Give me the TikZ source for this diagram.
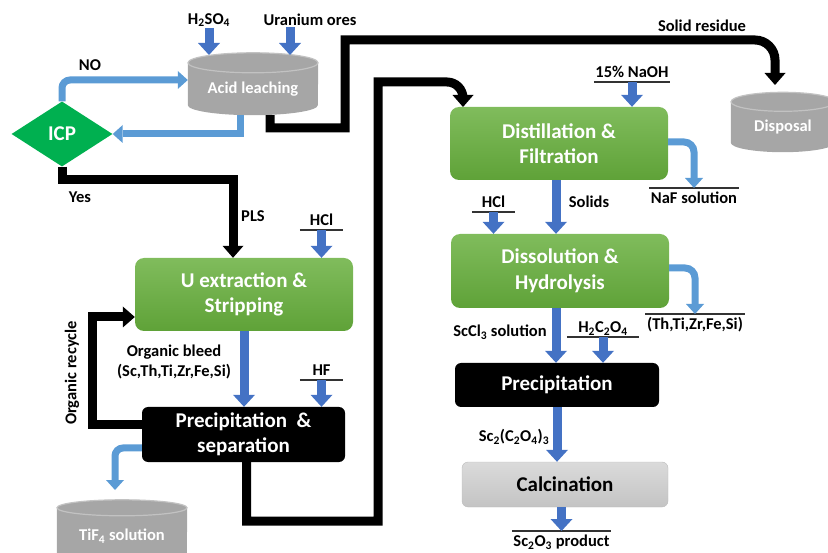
\documentclass[tikz,border=0pt]{standalone}
\usepackage{fontspec}
\setmainfont{Carlito}
\usepackage{tikz}
\usetikzlibrary{arrows.meta, positioning, shapes.geometric, backgrounds, calc}

\definecolor{flowblue}{HTML}{4472C4}
\definecolor{sideblue}{HTML}{5B9BD5}
\definecolor{icpgreen}{HTML}{00B050}
\definecolor{greentop}{HTML}{80BC5C}
\definecolor{greenbot}{HTML}{5FA238}
\definecolor{tankgray}{HTML}{A6A6A6}
\definecolor{tankrim}{HTML}{C2C2C2}
\definecolor{caltop}{HTML}{DADADA}
\definecolor{calbot}{HTML}{C4C4C4}
\definecolor{calborder}{HTML}{BCBCBC}

\newcommand{\labelfont}{\fontsize{16.5}{20.5}\selectfont\bfseries}
\newcommand{\boxfont}{\fontsize{21}{25.5}\selectfont\bfseries}

% cylinder body behind a tank node: node, x radius, y radius
\newcommand{\tankbody}[3]{%
  \begin{scope}[on background layer]
    \fill[tankgray] (#1.north west) -- ([yshift=#3]#1.south west)
      arc[start angle=180, end angle=360, x radius=#2, y radius=#3]
      -- (#1.north east)
      arc[start angle=0, end angle=180, x radius=#2, y radius=#3] -- cycle;
    \draw[tankrim, line width=1.2pt] (#1.north) ellipse[x radius=#2, y radius=#3];
  \end{scope}}

\begin{document}
\begin{tikzpicture}[x=1pt, y=-1pt,
    every node/.style={font=\labelfont, inner sep=1pt},
    greenbox/.style={rectangle, rounded corners=9pt, top color=greentop, bottom color=greenbot,
      text=white, font=\boxfont, align=center, minimum width=218pt, minimum height=73pt},
    blackbox/.style={rectangle, rounded corners=6pt, fill=black, text=white, font=\boxfont,
      align=center, minimum width=204pt},
    tank/.style={rectangle, inner sep=0pt, text=white},
    feed/.style={inner sep=1.5pt, minimum width=43pt, text height=12pt, text depth=2.5pt},
    product/.style={inner sep=1.5pt, text height=14pt, text depth=3pt},
    rule/.style={black!80, line width=1.5pt},
    mainflow/.style={flowblue, line width=9pt, -{Triangle[width=22pt, length=12pt, line width=0pt]}},
    sideflow/.style={sideblue, line width=7pt, -{Triangle[width=18pt, length=10pt, line width=0pt]}},
    blackflow/.style={black, line width=9pt, -{Triangle[width=21pt, length=12pt, line width=0pt]}}]

  \useasboundingbox (0,0) rectangle (828,553);

  % leaching and ICP loop
  \node (h2so4) at (209,20) {H\textsubscript{2}SO\textsubscript{4}};
  \node (uore) at (310,20) {Uranium ores};
  \node[tank, minimum width=130pt, minimum height=52pt] (acid) at (253,89) {Acid leaching};
  \tankbody{acid}{65pt}{10pt}
  \node[diamond, fill=icpgreen, text=white, font=\boxfont, aspect=1.55,
    minimum width=101pt, minimum height=65pt, inner sep=0pt] (icp) at (62,134) {ICP};
  \node (no) at (90,65) {NO};
  \node (yes) at (80,197) {Yes};
  \node (pls) at (253,216) {PLS};
  \node (residue) at (702,26) {Solid residue};
  \node[tank, minimum width=104pt, minimum height=50pt] (disp) at (783,127) {Disposal};
  \tankbody{disp}{52pt}{9.5pt}

  % left column
  \node[greenbox] (uext) at (244,294.5) {U extraction \&\\Stripping};
  \node[blackbox, minimum width=203pt, minimum height=55pt] (psep) at (243.5,434.5) {Precipitation~~\&\\separation};
  \node[tank, minimum width=130pt, minimum height=56pt] (tif) at (122,536) {TiF\textsubscript{4} solution};
  \tankbody{tif}{65pt}{8pt}
  \node[align=center] (bleed) at (174,362) {Organic bleed\\(Sc,Th,Ti,Zr,Fe,Si)};
  \node[rotate=90] (recycle) at (72,373) {Organic recycle};
  \node[feed, anchor=south] (hcla) at (321.5,230) {HCl};
  \node[feed, anchor=south] (hf) at (321.5,380) {HF};

  % right column
  \node[greenbox] (dist) at (559,143.5) {Distillation \&\\Filtration};
  \node[feed, minimum width=72pt, anchor=south] (naoh) at (632,82) {15\% NaOH};
  \node[product, minimum width=72pt, anchor=north] (naf) at (694,188) {NaF solution};
  \node (solids) at (589,202) {Solids};
  \node[feed, anchor=south] (hclb) at (493.5,212) {HCl};
  \node[greenbox, minimum height=74pt] (diss) at (560,271) {Dissolution \&\\Hydrolysis};
  \node[product, minimum width=73pt, anchor=north] (thti) at (695,314) {(Th,Ti,Zr,Fe,Si)};
  \node (sccl) at (500,332) {ScCl\textsubscript{3} solution};
  \node[feed, minimum width=72pt, anchor=south] (oxal) at (603,337) {H\textsubscript{2}C\textsubscript{2}O\textsubscript{4}};
  \node[blackbox, minimum height=44pt] (prec) at (557,385) {Precipitation};
  \node (scox) at (514,437) {Sc\textsubscript{2}(C\textsubscript{2}O\textsubscript{4})\textsubscript{3}};
  \node[rectangle, rounded corners=6pt, top color=caltop, bottom color=calbot, draw=calborder,
    font=\boxfont, minimum width=206pt, minimum height=45pt] (cal) at (565,484.5) {Calcination};
  \node[product, minimum width=73pt, anchor=north] (sco) at (561.5,531) {Sc\textsubscript{2}O\textsubscript{3} product};

  % rules under feeds, over products
  \draw[rule] (hcla.south west) -- (hcla.south east);
  \draw[rule] (hf.south west) -- (hf.south east);
  \draw[rule] (naoh.south west) -- (naoh.south east);
  \draw[rule] (hclb.south west) -- (hclb.south east);
  \draw[rule] (oxal.south west) -- (oxal.south east);
  \draw[rule] (naf.north west) -- (naf.north east);
  \draw[rule] (thti.north west) -- (thti.north east);
  \draw[rule] (sco.north west) -- (sco.north east);

  % bend points
  \coordinate (leachtop) at (253,55);
  \coordinate (orein) at (290,55);
  \coordinate (resa) at (345,128);
  \coordinate (resb) at (345,40);
  \coordinate (dispin) at (775,85);
  \coordinate (yesbend) at (233,180);
  \coordinate (recbend) at (92,317);
  \coordinate (tifin) at (115,490);
  \coordinate (loopa) at (378,521);
  \coordinate (loopb) at (378,82);
  \coordinate (distin) at (463,107);

  % flows
  \draw[mainflow] (h2so4.south) -- (h2so4.south |- leachtop);
  \draw[mainflow] (orein |- uore.south) -- (orein);
  \draw[sideflow, rounded corners=8pt] (icp.north) |- ([yshift=9pt]acid.west);
  \draw[sideflow] ([xshift=-13pt]acid.south) |- (icp.east);
  \draw[blackflow] ([xshift=17pt]acid.south) |- (resa) -- (resb)
    [rounded corners=20pt] -- (resb -| dispin) -- (dispin);
  \draw[blackflow] (icp.south) |- (yesbend) -- (yesbend |- uext.north);
  \draw[mainflow] (hcla.south) -- (hcla.south |- uext.north);
  \draw[mainflow] (uext.south) -- (uext.south |- psep.north);
  \draw[mainflow] (hf.south) -- (hf.south |- psep.north);
  \draw[blackflow] ([yshift=9.5pt]psep.west) -| (recbend) -- (recbend -| uext.west);
  \draw[sideflow, rounded corners=8pt] ([yshift=-13.5pt]psep.west) -| (tifin);
  \draw[blackflow] ([xshift=3pt]psep.south) |- (loopa) -- (loopb)
    [rounded corners=16pt] -- (loopb -| distin) -- (distin);
  \draw[mainflow] (naoh.south) -- (naoh.south |- dist.north);
  \draw[sideflow, rounded corners=10pt] ([yshift=1.5pt]dist.east) -| (naf.north);
  \draw[mainflow] ([xshift=-3pt]dist.south) -- ([xshift=-3pt]dist.south |- diss.north);
  \draw[mainflow] (hclb.south) -- (hclb.south |- diss.north);
  \draw[sideflow, rounded corners=10pt] ([yshift=3pt]diss.east) -| (thti.north);
  \draw[mainflow] ([xshift=-4pt]diss.south) -- ([xshift=-4pt]diss.south |- prec.north);
  \draw[mainflow] (oxal.south) -- (oxal.south |- prec.north);
  \draw[mainflow] (prec.south) -- (prec.south |- cal.north);
  \draw[mainflow] (sco.north |- cal.south) -- (sco.north);

\end{tikzpicture}
\end{document}
